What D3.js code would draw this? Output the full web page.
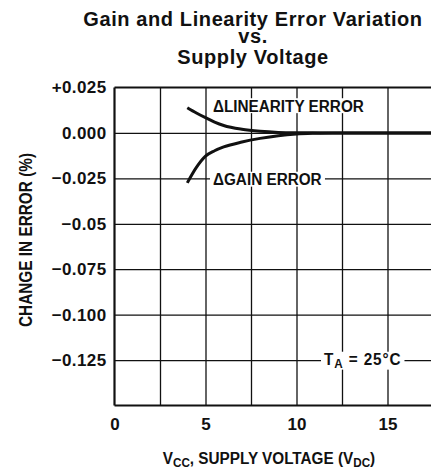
<!DOCTYPE html>
<html>
<head>
<meta charset="utf-8">
<script src="https://cdn.jsdelivr.net/npm/d3@7"></script>
<style>
  body { margin: 0; background: #fff; }
  text { fill: #111; }
  .lbl { font-family: "Liberation Sans", Arial, sans-serif; font-weight: bold; }
  .cond { transform-box: fill-box; transform: scaleX(0.9); }
  .title { font-family: "Liberation Sans", Arial, sans-serif; font-weight: bold; font-size: 20px; letter-spacing: 0.6px; }
</style>
</head>
<body>
<div id="chart"></div>
<script>
// supply voltage (V) and change in error (%)
const linVolts = [4, 4.5, 5, 5.5, 6, 7, 8, 9, 10, 12, 15, 20];
const linError = [0.0139, 0.0110, 0.0084, 0.0060, 0.0041, 0.0020, 0.0009, 0.0003, 0.0001, 0, 0, 0];
const gainVolts = [4, 4.5, 5, 5.5, 6, 7, 8, 9, 10, 11, 12, 15, 20];
const gainError = [-0.0275, -0.0190, -0.0128, -0.0098, -0.0077, -0.0050, -0.0030, -0.0015, -0.0006, -0.0002, 0, 0, 0];

const yTicks = [0.025, 0, -0.025, -0.05, -0.075, -0.1, -0.125];
const yTickLabels = ["+0.025", "0.000", "\u22120.025", "\u22120.05", "\u22120.075", "\u22120.100", "\u22120.125"];
const xTicks = [0, 5, 10, 15];
const xGrid = [2.5, 5, 7.5, 10, 12.5, 15, 17.5];
const yGrid = [0, -0.025, -0.05, -0.075, -0.1, -0.125];

const W = 431, H = 474;
const svg = d3.select("#chart").append("svg")
    .attr("width", W)
    .attr("height", H);

const x = d3.scaleLinear().domain([0, 20]).range([114.5, 478.5]);
const y = d3.scaleLinear().domain([-0.15, 0.025]).range([405.5, 87.5]);

// title
const title = svg.append("text").attr("class", "title").attr("text-anchor", "middle");
title.append("tspan").attr("x", 253).attr("y", 26).text("Gain and Linearity Error Variation");
title.append("tspan").attr("x", 253).attr("y", 43).text("vs.");
title.append("tspan").attr("x", 253).attr("y", 64).text("Supply Voltage");

// grid
svg.append("g")
    .attr("transform", "translate(0," + y(-0.15) + ")")
    .call(d3.axisBottom(x).tickValues(xGrid).tickSize(-(y(-0.15) - y(0.025))).tickFormat(""))
    .call(g => g.select(".domain").remove())
    .call(g => g.selectAll("line").attr("stroke", "#111").attr("stroke-width", 1.3));

svg.append("g")
    .attr("transform", "translate(" + x(0) + ",0)")
    .call(d3.axisLeft(y).tickValues(yGrid).tickSize(-(x(20) - x(0))).tickFormat(""))
    .call(g => g.select(".domain").remove())
    .call(g => g.selectAll("line").attr("stroke", "#111").attr("stroke-width", 1.3));

// frame
svg.append("line").attr("x1", x(0)).attr("x2", x(20)).attr("y1", y(0.025)).attr("y2", y(0.025))
    .attr("stroke", "#111").attr("stroke-width", 2);
svg.append("line").attr("x1", x(0)).attr("x2", x(20)).attr("y1", y(-0.15)).attr("y2", y(-0.15))
    .attr("stroke", "#111").attr("stroke-width", 2.2);
svg.append("line").attr("x1", x(0)).attr("x2", x(0)).attr("y1", y(0.025)).attr("y2", y(-0.15))
    .attr("stroke", "#111").attr("stroke-width", 2.2);

// y tick labels
svg.append("g")
    .attr("transform", "translate(" + x(0) + ",0)")
    .call(d3.axisLeft(y).tickValues(yTicks).tickSize(0).tickPadding(8)
        .tickFormat((d, i) => yTickLabels[i]))
    .call(g => g.select(".domain").remove())
    .call(g => g.selectAll("text").attr("class", "lbl").style("font-size", "17px")
        .style("letter-spacing", "0.4px").attr("fill", "#111"));

// x tick labels
svg.append("g")
    .attr("transform", "translate(0," + y(-0.15) + ")")
    .call(d3.axisBottom(x).tickValues(xTicks).tickSize(0).tickPadding(12))
    .call(g => g.select(".domain").remove())
    .call(g => g.selectAll("text").attr("class", "lbl").style("font-size", "17px")
        .attr("fill", "#111"));

// axis titles
const xt = svg.append("text").attr("class", "lbl cond").attr("x", 269).attr("y", 464)
    .attr("text-anchor", "middle").style("font-size", "17px")
    .style("transform-origin", "center");
xt.append("tspan").text("V");
xt.append("tspan").attr("dy", 3).style("font-size", "13px").text("CC");
xt.append("tspan").attr("dy", -3).text(", SUPPLY VOLTAGE (V");
xt.append("tspan").attr("dy", 3).style("font-size", "13px").text("DC");
xt.append("tspan").attr("dy", -3).text(")");

svg.append("g").attr("transform", "translate(32,240) rotate(-90)")
  .append("text").attr("class", "lbl")
    .attr("text-anchor", "middle").style("font-size", "18.5px")
    .style("transform-box", "fill-box").style("transform-origin", "center")
    .style("transform", "scaleX(0.83)")
    .text("CHANGE IN ERROR (%)");

// curves
const line = d3.line().x(d => x(d[0])).y(d => y(d[1])).curve(d3.curveMonotoneX);
svg.append("path")
    .datum(linVolts.map((v, i) => [v, linError[i]]))
    .attr("d", line).attr("fill", "none").attr("stroke", "#111").attr("stroke-width", 3);
svg.append("path")
    .datum(gainVolts.map((v, i) => [v, gainError[i]]))
    .attr("d", line).attr("fill", "none").attr("stroke", "#111").attr("stroke-width", 3);

// annotations with white backing
const svgBox = svg.node().getBoundingClientRect();
function note(tx, ty, build) {
  const g = svg.append("g");
  const t = g.append("text").attr("class", "lbl cond").attr("x", tx).attr("y", ty)
      .style("font-size", "17px").style("transform-origin", "left");
  build(t);
  const b = t.node().getBoundingClientRect();
  g.insert("rect", "text").attr("x", b.left - svgBox.left - 3).attr("y", b.top - svgBox.top + 2)
      .attr("width", b.width + 6).attr("height", b.height - 4).attr("fill", "#fff");
}
note(213, 112, t => t.text("\u0394LINEARITY ERROR"));
note(213, 185.5, t => t.text("\u0394GAIN ERROR"));
note(324, 365.5, t => {
  t.style("letter-spacing", "1px");
  t.append("tspan").text("T");
  t.append("tspan").attr("dy", 3).style("font-size", "13px").text("A");
  t.append("tspan").attr("dy", -3).text(" = 25\u00b0C");
});
</script>
</body>
</html>
